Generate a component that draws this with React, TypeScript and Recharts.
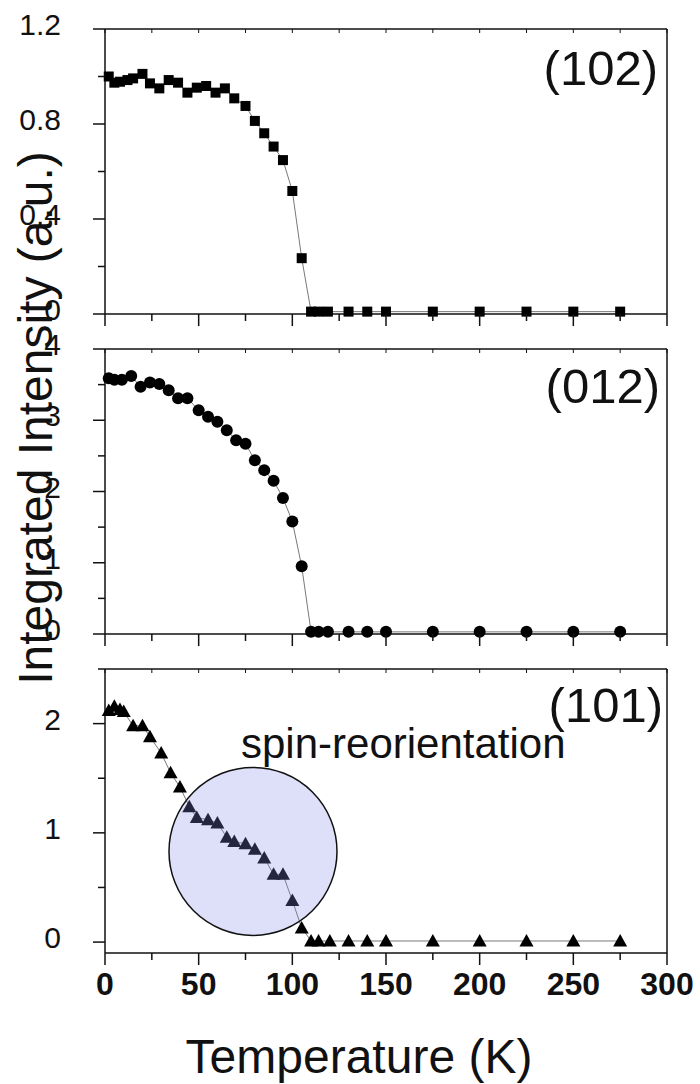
import { LineChart, Line, XAxis, YAxis, ReferenceDot } from 'recharts';

const FONT = '"Liberation Sans", Arial, sans-serif';

// temperature axis
const tempTicks = [0, 25, 50, 75, 100, 125, 150, 175, 200, 225, 250, 275, 300];

// (102) reflection - squares
const temps102 = [2, 5, 8, 12, 15, 20, 24, 29, 34, 39, 44, 49, 54, 59, 64, 69, 75, 80, 85, 90, 95, 100, 105, 110, 114, 119, 130, 140, 150, 175, 200, 225, 250, 275];
const int102 = [1.0, 0.974, 0.978, 0.985, 0.992, 1.011, 0.971, 0.95, 0.985, 0.974, 0.932, 0.953, 0.96, 0.932, 0.95, 0.908, 0.876, 0.813, 0.761, 0.705, 0.648, 0.518, 0.235, 0.01, 0.01, 0.01, 0.01, 0.01, 0.01, 0.01, 0.01, 0.01, 0.01, 0.01];
const ticks102 = [0, 0.2, 0.4, 0.6, 0.8, 1.0, 1.2];
const labels102 = [0, 0.4, 0.8, 1.2];

// (012) reflection - circles
const temps012 = [2, 5, 9, 14, 19, 24, 29, 34, 39, 44, 50, 55, 60, 65, 70, 75, 80, 85, 90, 95, 100, 105, 110, 114, 119, 130, 140, 150, 175, 200, 225, 250, 275];
const int012 = [3.59, 3.57, 3.57, 3.62, 3.47, 3.53, 3.51, 3.42, 3.31, 3.31, 3.14, 3.05, 2.98, 2.86, 2.72, 2.67, 2.44, 2.3, 2.15, 1.91, 1.58, 0.95, 0.03, 0.03, 0.03, 0.03, 0.03, 0.03, 0.03, 0.03, 0.03, 0.03, 0.03];
const ticks012 = [0, 0.5, 1, 1.5, 2, 2.5, 3, 3.5, 4];
const labels012 = [0, 1, 2, 3, 4];

// (101) reflection - triangles
const temps101 = [2, 5, 8, 10, 15, 20, 24, 30, 35, 40, 45, 49, 55, 60, 65, 69, 75, 80, 85, 90, 95, 100, 105, 110, 114, 120, 130, 140, 150, 175, 200, 225, 250, 275];
const int101 = [2.12, 2.16, 2.13, 2.11, 1.98, 1.98, 1.88, 1.73, 1.55, 1.42, 1.24, 1.14, 1.12, 1.09, 0.96, 0.92, 0.9, 0.85, 0.77, 0.62, 0.62, 0.38, 0.13, 0.01, 0.01, 0.01, 0.01, 0.01, 0.01, 0.01, 0.01, 0.01, 0.01, 0.01];
const ticks101 = [0, 0.5, 1, 1.5, 2, 2.5];
const labels101 = [0, 1, 2];

// spin-reorientation highlight (T, intensity)
const spinCenter = [79, 0.83];

const zip = (ts: number[], vs: number[]) => ts.map((t, i) => ({ t, v: vs[i] }));

const square = (p: any) => <rect key={p.index} x={p.cx - 5} y={p.cy - 5} width={10} height={10} fill="#000" />;
const disc = (p: any) => <circle key={p.index} cx={p.cx} cy={p.cy} r={6} fill="#000" />;
const tri = (p: any) => (
  <polygon key={p.index} points={`${p.cx},${p.cy - 7} ${p.cx - 7},${p.cy + 5.5} ${p.cx + 7},${p.cy + 5.5}`} fill="#000" />
);

const bottomTick = (showLabel: boolean) => (props: any) => {
  const { x, y, payload } = props;
  const major = payload.value % 50 === 0;
  return (
    <g>
      <line x1={x} x2={x} y1={y} y2={y + (major ? 12 : 7)} stroke="#111" strokeWidth={1.5} />
      {showLabel && major && (
        <text x={x} y={y + 42} textAnchor="middle" fontSize={32} fontWeight="bold" fontFamily={FONT} fill="#111">
          {payload.value}
        </text>
      )}
    </g>
  );
};

const leftTick = (labels: number[]) => (props: any) => {
  const { x, y, payload } = props;
  const major = labels.some((l) => Math.abs(l - payload.value) < 1e-6);
  return (
    <g>
      <line x1={x - (major ? 12 : 7)} x2={x} y1={y} y2={y} stroke="#111" strokeWidth={1.5} />
      {major && (
        <text x={x - 44} y={y + 6} textAnchor="end" fontSize={30} fontFamily={FONT} fill="#111">
          {payload.value}
        </text>
      )}
    </g>
  );
};

const topTick = (props: any) => (
  <line x1={props.x} x2={props.x} y1={props.y} y2={props.y + 4} stroke="#111" strokeWidth={1} />
);
const rightTick = (props: any) => (
  <line x1={props.x - 4} x2={props.x} y1={props.y} y2={props.y} stroke="#111" strokeWidth={1} />
);

interface PanelProps {
  data: { t: number; v: number }[];
  domain: [number, number];
  yTicks: number[];
  yLabels: number[];
  marker: (p: any) => any;
  top: number;
  height: number;
  bottom: number;
  showXLabels?: boolean;
  children?: any;
}

const axisLine = { stroke: '#111', strokeWidth: 1.5 };

function Panel({ data, domain, yTicks, yLabels, marker, top, height, bottom, showXLabels, children }: PanelProps) {
  return (
    <div style={{ position: 'absolute', left: 0, top }}>
      <LineChart width={700} height={height} data={data} margin={{ top: 28, right: 32, bottom: bottom - 1, left: 104 }}>
        <XAxis dataKey="t" type="number" domain={[0, 300]} ticks={tempTicks} interval={0} height={1}
          tickSize={0} tickMargin={0} tick={bottomTick(!!showXLabels)} tickLine={false} axisLine={axisLine} />
        <XAxis xAxisId="top" orientation="top" dataKey="t" type="number" domain={[0, 300]} ticks={tempTicks}
          interval={0} height={1} tickSize={0} tickMargin={0} tick={topTick} tickLine={false} axisLine={axisLine} />
        <YAxis type="number" domain={domain} ticks={yTicks} interval={0} width={1} tickSize={0} tickMargin={0}
          tick={leftTick(yLabels)} tickLine={false} axisLine={axisLine} />
        <YAxis yAxisId="right" orientation="right" type="number" domain={domain} ticks={yTicks} interval={0}
          width={1} tickSize={0} tickMargin={0} tick={rightTick} tickLine={false} axisLine={axisLine} />
        <Line dataKey="v" type="linear" stroke="#555" strokeWidth={0.8} dot={marker} activeDot={false}
          isAnimationActive={false} />
        {children}
      </LineChart>
    </div>
  );
}

export default function App() {
  return (
    <div style={{ position: 'absolute', left: 0, top: 0, width: 700, height: 1084, background: '#fff', overflow: 'hidden' }}>
      <Panel data={zip(temps102, int102)} domain={[0, 1.2]} yTicks={ticks102} yLabels={labels102}
        marker={square} top={0} height={340} bottom={26} />
      <Panel data={zip(temps012, int012)} domain={[0, 4]} yTicks={ticks012} yLabels={labels012}
        marker={disc} top={320} height={340} bottom={26} />
      <Panel data={zip(temps101, int101)} domain={[-0.1, 2.5]} yTicks={ticks101} yLabels={labels101}
        marker={tri} top={640} height={444} bottom={131} showXLabels>
        <ReferenceDot x={spinCenter[0]} y={spinCenter[1]} r={84} fill="#828ce6" fillOpacity={0.27}
          stroke="#111" strokeWidth={1.5} ifOverflow="visible" />
      </Panel>
      <svg width={700} height={1084} style={{ position: 'absolute', left: 0, top: 0, pointerEvents: 'none' }}
        fontFamily={FONT} fill="#111">
        <text x={658} y={85} textAnchor="end" fontSize={49}>(102)</text>
        <text x={660} y={403} textAnchor="end" fontSize={49}>(012)</text>
        <text x={663} y={722} textAnchor="end" fontSize={49}>(101)</text>
        <text x={241} y={758} fontSize={42}>spin-reorientation</text>
        <text x={52} y={418} textAnchor="middle" fontSize={48} transform="rotate(-90, 52, 418)">
          Integrated Intensity (a.u.)
        </text>
        <text x={359} y={1073} textAnchor="middle" fontSize={48}>Temperature (K)</text>
      </svg>
    </div>
  );
}
